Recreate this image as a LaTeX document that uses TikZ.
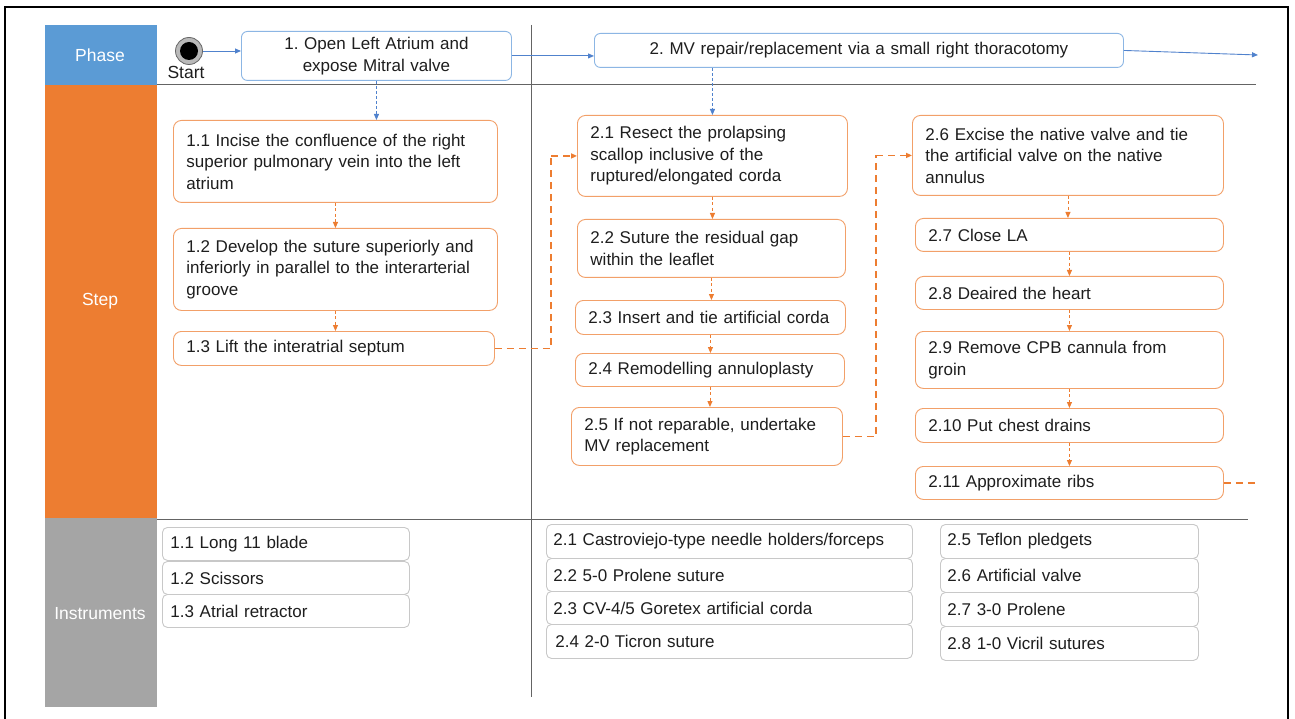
\documentclass[tikz,border=0pt]{standalone}
\usepackage{fontspec}
\setmainfont{Liberation Sans}
\usetikzlibrary{arrows.meta}
\definecolor{phaseblue}{RGB}{91,155,213}
\definecolor{steporange}{RGB}{237,125,49}
\definecolor{instgray}{RGB}{165,165,165}
\definecolor{pborder}{RGB}{140,182,228}
\definecolor{sborder}{RGB}{242,160,105}
\definecolor{iborder}{RGB}{200,200,200}
\definecolor{txt}{RGB}{30,30,30}
\definecolor{arrowblue}{RGB}{80,130,205}
\definecolor{gridcol}{RGB}{100,100,100}
\begin{document}
\frenchspacing
\begin{tikzpicture}[x=1pt,y=-1pt,
  every node/.style={font=\fontsize{17}{21.5}\selectfont, text=txt},
  bandlabel/.style={text=white, font=\fontsize{17.5}{20}\selectfont},
  phasebox/.style={draw=pborder, rounded corners=6pt, line width=0.9pt, fill=white, anchor=north west, align=center, inner sep=0pt},
  stepbox/.style={draw=sborder, rounded corners=8pt, line width=0.9pt, fill=white, anchor=north west, align=left, inner xsep=13pt, inner ysep=0pt},
  instbox/.style={draw=iborder, rounded corners=5pt, line width=0.9pt, fill=white, anchor=north west, align=left, inner xsep=8pt, inner ysep=0pt},
  bluearrow/.style={draw=arrowblue, line width=0.9pt, -{Triangle[length=6pt,width=5pt]}},
  bluedash/.style={draw=arrowblue, line width=0.9pt, dash pattern=on 3pt off 2pt, -{Triangle[length=6pt,width=5pt]}},
  smalldash/.style={draw=steporange, line width=0.9pt, dash pattern=on 3pt off 2.5pt, -{Triangle[length=6pt,width=5pt]}},
  longdash/.style={draw=steporange, line width=1.6pt, dash pattern=on 7pt off 5pt},
  longdasharrow/.style={longdash, -{Triangle[length=6pt,width=5pt]}},
  gridline/.style={draw=gridcol, line width=1pt}
]
\useasboundingbox (0,0) rectangle (1295,719);
\fill[white] (0,0) rectangle (1295,719);
% outer frame
\draw[line width=2pt, black] (5,722) -- (5,7) -- (1288,7) -- (1288,722);
% bands
\fill[phaseblue] (45,25) rectangle (157,85);
\fill[steporange] (45,85) rectangle (157,518);
\fill[instgray] (45,518) rectangle (157,707);
\node[bandlabel] (lphase) at (100,55) {Phase};
\node[bandlabel] (lstep) at (100,301) {Step};
\node[bandlabel] (linst) at (100,614) {Instruments};
% grid lines
\draw[gridline] (157,85) -- (1256,85);
\draw[gridline] (157,519) -- (1248,519);
\draw[gridline] (531,25) -- (531,697);
% start
\node[circle, fill=gray!55, draw=gray!80!black, line width=0.8pt, minimum size=27pt, inner sep=0pt] (start) at (189,51) {};
\fill[black] (start.center) circle (9);
\node[font=\fontsize{17.5}{20}\selectfont] (startlbl) at (186,72) {Start};
% phase boxes
\node[phasebox, minimum width=270, minimum height=49, text width=262] (p1) at (241,31) {1. Open Left Atrium and\\expose Mitral valve};
\node[phasebox, minimum width=529, minimum height=34, text width=520] (p2) at (594,33) {2. MV repair/replacement via a small right thoracotomy};
\coordinate (pend) at (1258,55);
% step boxes
\node[stepbox, minimum width=324, minimum height=82, text width=298] (s11) at (173,120) {1.1 Incise the confluence of the right\\superior pulmonary vein into the left\\atrium};
\node[stepbox, minimum width=324, minimum height=82, text width=298] (s12) at (173,228) {1.2 Develop the suture superiorly and\\inferiorly in parallel to the interarterial\\groove};
\node[stepbox, minimum width=321, minimum height=34, text width=295] (s13) at (173,331) {1.3 Lift the interatrial septum};
\node[stepbox, minimum width=270, minimum height=81, text width=244] (s21) at (577,115) {2.1 Resect the prolapsing\\scallop inclusive of the\\ruptured/elongated corda};
\node[stepbox, minimum width=268, minimum height=58, text width=242] (s22) at (577,219) {2.2 Suture the residual gap\\within the leaflet};
\node[stepbox, minimum width=270, minimum height=34, text width=244] (s23) at (575,300) {2.3 Insert and tie artificial corda};
\node[stepbox, minimum width=269, minimum height=33, text width=243] (s24) at (575,353) {2.4 Remodelling annuloplasty};
\node[stepbox, minimum width=271, minimum height=58, text width=245] (s25) at (571,407) {2.5 If not reparable, undertake\\MV replacement};
\node[stepbox, minimum width=311, minimum height=80, text width=285] (s26) at (912,115) {2.6 Excise the native valve and tie\\the artificial valve on the native\\annulus};
\node[stepbox, minimum width=308, minimum height=33, text width=282] (s27) at (915,218) {2.7 Close LA};
\node[stepbox, minimum width=308, minimum height=33, text width=282] (s28) at (915,276) {2.8 Deaired the heart};
\node[stepbox, minimum width=308, minimum height=57, text width=282] (s29) at (915,331) {2.9 Remove CPB cannula from\\groin};
\node[stepbox, minimum width=308, minimum height=34, text width=282] (s210) at (915,408) {2.10 Put chest drains};
\node[stepbox, minimum width=308, minimum height=33, text width=282] (s211) at (915,466) {2.11 Approximate ribs};
\coordinate (c1) at (551,0);
\coordinate (c2) at (876,0);
\coordinate (send) at (1258,0);
% instrument boxes
\node[instbox, minimum width=247, minimum height=33, text width=231] (i11) at (162,527) {1.1 Long 11 blade};
\node[instbox, minimum width=247, minimum height=33, text width=231] (i12) at (162,561) {1.2 Scissors};
\node[instbox, minimum width=247, minimum height=33, text width=231] (i13) at (162,594) {1.3 Atrial retractor};
\node[instbox, minimum width=366, minimum height=34, text width=352, inner xsep=7pt] (i21) at (546,524) {2.1 Castroviejo-type needle holders/forceps};
\node[instbox, minimum width=366, minimum height=33, text width=352, inner xsep=7pt] (i22) at (546,558) {2.2 5-0 Prolene suture};
\node[instbox, minimum width=366, minimum height=33, text width=352, inner xsep=7pt] (i23) at (546,591) {2.3 CV-4/5 Goretex artificial corda};
\node[instbox, minimum width=366, minimum height=34, text width=348, inner xsep=9pt] (i24) at (546,624) {2.4 2-0 Ticron suture};
\node[instbox, minimum width=258, minimum height=34, text width=244, inner xsep=7pt] (i25) at (940,524) {2.5 Teflon pledgets};
\node[instbox, minimum width=258, minimum height=34, text width=244, inner xsep=7pt] (i26) at (940,558) {2.6 Artificial valve};
\node[instbox, minimum width=258, minimum height=34, text width=244, inner xsep=7pt] (i27) at (940,592) {2.7 3-0 Prolene};
\node[instbox, minimum width=258, minimum height=34, text width=244, inner xsep=7pt] (i28) at (940,626) {2.8 1-0 Vicril sutures};
% phase connectors
\draw[bluearrow] (start.east) -- (start.east -| p1.west);
\draw[bluearrow] (p1.east) -- (p1.east -| p2.west);
\draw[bluearrow] (p2.east) -- (pend);
\draw[bluedash] (p1.south) -- (p1.south |- s11.north);
\draw[bluedash] (s21.north |- p2.south) -- (s21.north);
% step connectors
\draw[smalldash] (s11.south) -- (s12.north);
\draw[smalldash] (s12.south) -- (s12.south |- s13.north);
\draw[smalldash] (s21.south) -- (s21.south |- s22.north);
\draw[smalldash] (s22.south) -- (s22.south |- s23.north);
\draw[smalldash] (s23.south) -- (s23.south |- s24.north);
\draw[smalldash] (s24.south) -- (s24.south |- s25.north);
\draw[smalldash] (s26.south) -- (s26.south |- s27.north);
\draw[smalldash] (s27.south) -- (s28.north);
\draw[smalldash] (s28.south) -- (s29.north);
\draw[smalldash] (s29.south) -- (s210.north);
\draw[smalldash] (s210.south) -- (s211.north);
\draw[longdash] (s13.east) -| (c1 |- s21.west);
\draw[longdasharrow] (c1 |- s21.west) -- (s21.west);
\draw[longdash] (s25.east) -| (c2 |- s26.west);
\draw[longdasharrow] (c2 |- s26.west) -- (s26.west);
\draw[longdash] (s211.east) -- (send |- s211.east);
\end{tikzpicture}
\end{document}
